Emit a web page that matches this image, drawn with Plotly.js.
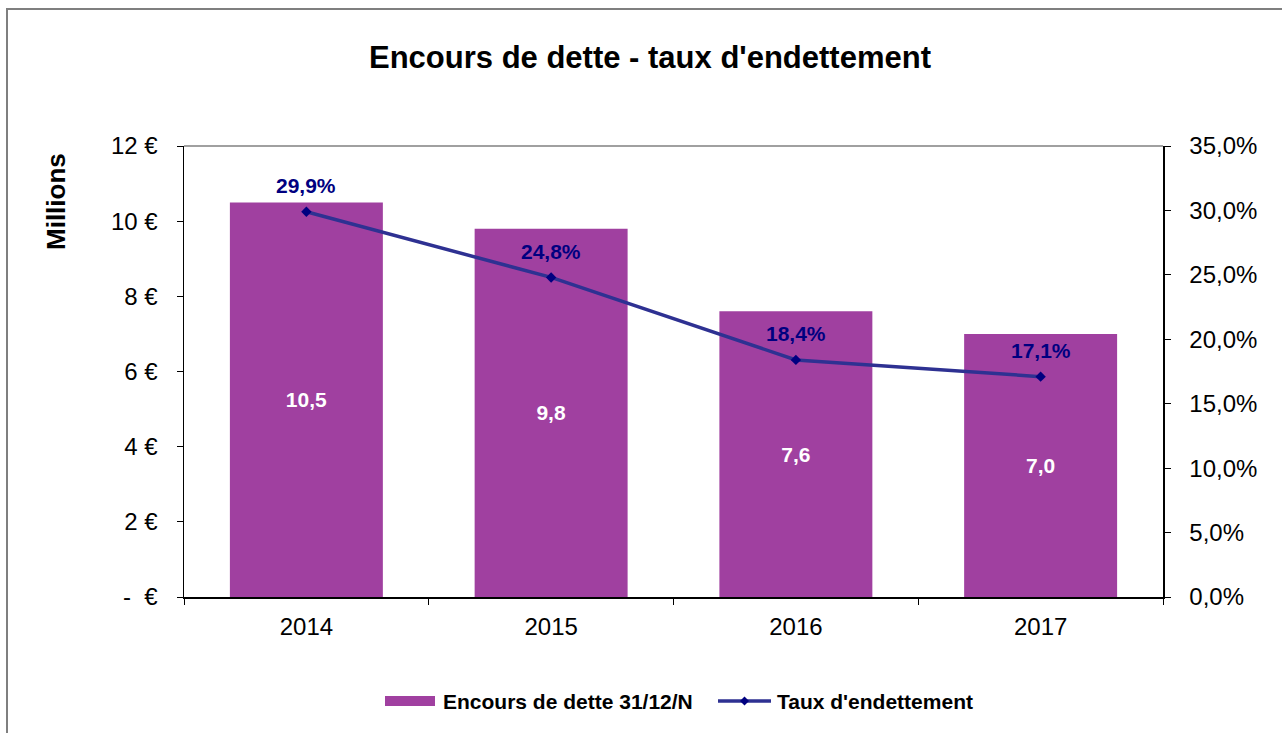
<!DOCTYPE html>
<html>
<head>
<meta charset="utf-8">
<script src="https://cdn.plot.ly/plotly-3.0.1.min.js"></script>
<style>
html,body{margin:0;padding:0;background:#fff;overflow:hidden;}
#chart{width:1282px;height:733px;}
#frame{position:absolute;left:6px;top:8px;width:1400px;height:800px;border-left:2px solid #7f7f7f;border-top:2px solid #7f7f7f;pointer-events:none;}
</style>
</head>
<body>
<div id="chart"></div>
<div id="frame"></div>
<script>
const years = ['2014', '2015', '2016', '2017'];
const encours = [10.5, 9.8, 7.6, 7.0];
const taux = [29.9, 24.8, 18.4, 17.1];
const yTickVals = [0, 2, 4, 6, 8, 10, 12];
const yTickText = ['-  €', '2 €', '4 €', '6 €', '8 €', '10 €', '12 €'];
const y2TickVals = [0, 5, 10, 15, 20, 25, 30, 35];
const y2TickText = ['0,0%', '5,0%', '10,0%', '15,0%', '20,0%', '25,0%', '30,0%', '35,0%'];
const barName = 'Encours de dette 31/12/N';
const lineName = "Taux d'endettement";

const FONT = 'Liberation Sans, Arial, sans-serif';
const BAR_COLOR = '#A040A0';
const LINE_COLOR = '#2E3192';
const LABEL_COLOR = '#000080';

const traces = [
  {
    type: 'bar',
    name: barName,
    x: years,
    y: encours,
    width: 0.625,
    marker: {color: BAR_COLOR},
    texttemplate: '%{y:.1f}',
    textposition: 'inside',
    insidetextanchor: 'middle',
    textangle: 0,
    textfont: {family: FONT, size: 21, color: '#ffffff', weight: 'bold'},
    hoverinfo: 'skip',
    showlegend: false
  },
  {
    type: 'scatter',
    mode: 'lines+markers',
    name: lineName,
    x: years,
    y: taux,
    yaxis: 'y2',
    line: {color: LINE_COLOR, width: 3.5},
    marker: {symbol: 'diamond', size: 8, color: LABEL_COLOR},
    cliponaxis: false,
    hoverinfo: 'skip',
    showlegend: false
  }
];

// point labels for the line, positioned through the axes (category index)
const annotations = taux.map((v, i) => ({
  x: i, y: v, xref: 'x', yref: 'y2',
  text: v.toFixed(1).replace('.', ',') + '%',
  showarrow: false, yshift: 26,
  font: {family: FONT, size: 21, color: LABEL_COLOR, weight: 'bold'}
}));

// manual legend & axis title (paper coords; plot area 184..1163 x, 146..597 y)
const pw = 1163 - 184, ph = 597 - 146;
const px = v => (v - 184) / pw;
const py = v => (597 - v) / ph;
const legY = 701;
annotations.push(
  {xref: 'paper', yref: 'paper', x: px(441), y: py(legY), xanchor: 'left', yanchor: 'middle',
   text: barName, showarrow: false, font: {family: FONT, size: 21, color: '#000000', weight: 'bold'}},
  {xref: 'paper', yref: 'paper', x: px(775), y: py(legY), xanchor: 'left', yanchor: 'middle',
   text: lineName, showarrow: false, font: {family: FONT, size: 21, color: '#000000', weight: 'bold'}},
  {xref: 'paper', yref: 'paper', x: px(56), y: py(202), xanchor: 'center', yanchor: 'middle',
   text: 'Millions', textangle: -90, showarrow: false,
   font: {family: FONT, size: 26, color: '#000000', weight: 'bold'}}
);

const shapes = [
  {type: 'line', xref: 'paper', yref: 'paper', x0: 0, x1: 1, y0: 1, y1: 1,
   line: {color: '#808080', width: 1.5}},
  {type: 'rect', xref: 'paper', yref: 'paper', x0: px(385), x1: px(435), y0: py(706), y1: py(696),
   fillcolor: BAR_COLOR, line: {width: 0}},
  {type: 'line', xref: 'paper', yref: 'paper', x0: px(718), x1: px(771), y0: py(legY), y1: py(legY),
   line: {color: LINE_COLOR, width: 3.5}},
  {type: 'path', xref: 'paper', yref: 'paper',
   path: `M ${px(740)} ${py(legY)} L ${px(744.5)} ${py(legY-4.5)} L ${px(749)} ${py(legY)} L ${px(744.5)} ${py(legY+4.5)} Z`,
   fillcolor: LABEL_COLOR, line: {width: 0}}
];

const layout = {
  width: 1282,
  height: 733,
  separators: ', ',
  paper_bgcolor: '#ffffff',
  plot_bgcolor: '#ffffff',
  margin: {l: 184, r: 119, t: 146, b: 136},
  font: {family: FONT, color: '#000000', size: 20},
  title: {
    text: "Encours de dette - taux d'endettement",
    font: {family: FONT, size: 31, color: '#000000', weight: 'bold'},
    x: 650 / 1282, xanchor: 'center', xref: 'container',
    y: 0.922, yanchor: 'middle'
  },
  showlegend: false,
  xaxis: {
    type: 'category',
    range: [-0.5, 3.5],
    autorange: false,
    showline: true,
    linecolor: '#000000',
    linewidth: 1.5,
    ticks: 'outside',
    tickson: 'boundaries',
    ticklen: 6,
    tickcolor: '#000000',
    tickangle: 0,
    tickfont: {family: FONT, size: 24, color: '#000000'},
    ticklabelstandoff: 8,
    showgrid: false,
    zeroline: false,
    fixedrange: true
  },
  yaxis: {
    range: [0, 12],
    autorange: false,
    tickvals: yTickVals,
    ticktext: yTickText,
    showline: true,
    linecolor: '#000000',
    linewidth: 1.5,
    ticks: 'outside',
    ticklen: 6,
    tickcolor: '#000000',
    tickfont: {family: FONT, size: 24, color: '#000000'},
    ticklabelstandoff: 14,
    showgrid: false,
    zeroline: false,
    fixedrange: true
  },
  yaxis2: {
    overlaying: 'y',
    side: 'right',
    range: [0, 35],
    autorange: false,
    tickvals: y2TickVals,
    ticktext: y2TickText,
    showline: true,
    linecolor: '#000000',
    linewidth: 1.5,
    ticks: 'outside',
    ticklen: 6,
    tickcolor: '#000000',
    tickfont: {family: FONT, size: 24, color: '#000000'},
    ticklabelstandoff: 14,
    showgrid: false,
    zeroline: false,
    fixedrange: true
  },
  annotations: annotations,
  shapes: shapes
};

Plotly.newPlot('chart', traces, layout, {displayModeBar: false, staticPlot: true});
</script>
</body>
</html>
